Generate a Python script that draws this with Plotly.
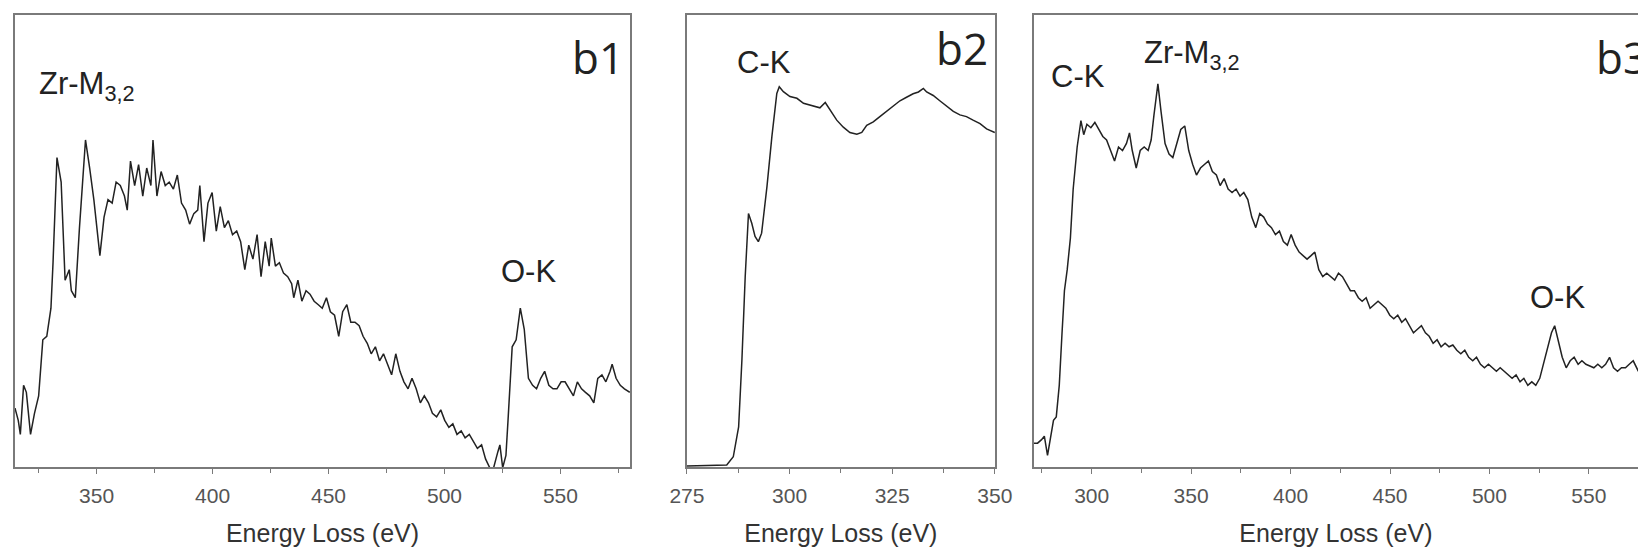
import plotly.graph_objects as go

# ---------------- data (intensity in arbitrary units) ----------------
b1_ev = [314.8, 316.2, 317.1, 318.5, 319.7, 321.5, 323.2, 325.0, 326.8, 328.5, 330.3, 331.2, 332.9, 334.7,
         336.4, 338.2, 339.1, 340.8, 342.6, 345.2, 347.0, 348.8, 351.4, 353.2, 354.9, 356.7, 358.4, 360.2,
         362.0, 363.2, 364.6, 366.4, 368.1, 369.9, 371.6, 373.4, 374.3, 376.0, 377.8, 379.6, 381.3, 383.1,
         384.8, 386.6, 388.4, 390.1, 391.9, 393.6, 394.5, 396.3, 398.0, 399.8, 401.6, 403.3, 405.1, 406.8,
         408.6, 410.4, 412.1, 413.9, 415.6, 417.4, 419.2, 420.9, 422.7, 424.4, 425.3, 427.1, 428.8, 430.6,
         432.4, 434.1, 435.0, 436.8, 438.5, 440.3, 442.0, 443.8, 445.6, 447.3, 449.1, 450.8, 452.6, 454.4,
         456.1, 457.9, 459.6, 461.4, 463.2, 464.9, 466.7, 468.4, 470.2, 472.0, 473.7, 475.5, 477.2, 479.0,
         480.8, 482.5, 484.3, 486.0, 487.8, 489.6, 491.3, 493.1, 494.8, 496.6, 498.4, 500.1, 501.9, 503.6,
         505.4, 507.2, 508.9, 510.7, 512.4, 514.2, 516.0, 517.7, 519.5, 521.2, 523.0, 523.9, 525.1, 526.5,
         527.4, 529.2, 530.9, 532.7, 534.4, 536.2, 538.0, 539.7, 541.5, 543.2, 545.0, 546.8, 548.5, 550.3,
         552.0, 553.8, 555.6, 557.3, 559.1, 560.8, 562.6, 564.4, 566.1, 567.9, 569.6, 571.4, 572.3, 574.0,
         575.8, 577.6, 579.9]
b1_int = [16.8, 13.3, 9.3, 23.3, 21.3, 9.3, 15.3, 20.3, 36.3, 37.3, 45.3, 58.3, 88.3, 81.3,
          53.3, 56.3, 50.3, 48.3, 68.3, 93.3, 85.3, 76.3, 60.3, 71.3, 76.3, 75.3, 81.3, 80.3,
          77.3, 73.3, 87.3, 80.3, 86.3, 77.3, 85.3, 80.3, 93.3, 77.3, 84.3, 80.3, 81.3, 79.3,
          83.3, 75.3, 73.3, 69.3, 72.3, 73.3, 80.3, 64.3, 75.3, 78.3, 67.3, 74.3, 68.3, 70.3,
          66.3, 67.3, 64.3, 56.3, 63.3, 59.3, 66.3, 54.3, 64.3, 57.3, 65.3, 57.3, 58.3, 55.3,
          54.3, 52.3, 48.3, 53.3, 47.3, 50.3, 49.3, 47.3, 46.3, 45.3, 48.3, 44.3, 43.3, 37.3,
          44.3, 46.3, 41.3, 41.3, 40.3, 37.3, 35.3, 32.3, 34.3, 30.3, 32.3, 29.3, 26.3, 32.3,
          27.3, 24.3, 22.3, 25.3, 22.3, 18.3, 20.3, 18.3, 15.3, 14.3, 16.3, 13.3, 11.3, 12.3,
          9.3, 10.3, 8.3, 9.3, 7.3, 5.3, 6.3, 2.3, -0.2, -0.2, 4.3, 6.3, -0.2, 3.3,
          13.3, 34.3, 36.3, 45.3, 39.3, 25.3, 23.3, 22.3, 25.3, 27.3, 23.3, 22.3, 22.3, 24.3,
          24.3, 22.3, 20.3, 24.3, 22.3, 21.3, 20.3, 18.3, 25.3, 26.3, 24.3, 27.3, 29.3, 25.3,
          23.3, 22.3, 21.3]

b2_ev = [275.0, 279.9, 284.7, 286.3, 287.6, 288.4, 289.2, 290.0, 290.8, 291.6, 292.4, 293.2, 294.5, 295.7,
         296.9, 297.5, 298.5, 300.1, 301.8, 303.4, 305.8, 307.4, 308.7, 309.9,
         311.5, 313.1, 314.7, 316.4, 317.6, 318.8, 320.4, 322.0, 323.7, 325.3, 326.9, 328.5, 330.1, 331.4,
         332.6, 333.4, 335.0, 336.6, 338.3, 339.9, 341.5, 343.1, 344.7, 346.4, 348.0, 350.0]
b2_int = [0.3, 0.5, 0.6, 2.9, 11.4, 30.4, 54.0, 72.0, 69.2, 65.5, 64.0, 66.4, 79.6, 93.8,
          106.1, 108.0, 106.6, 105.2, 104.7, 103.3, 102.5, 102.0, 103.5, 101.5,
          98.5, 96.5, 95.0, 94.5, 95.0, 97.0, 98.0, 99.5, 101.0, 102.5, 104.0, 105.0, 106.0, 106.5,
          107.5, 106.5, 105.5, 104.0, 102.5, 101.0, 100.0, 99.5, 98.5, 97.5, 96.0, 95.0]

b3_ev = [270.9, 272.8, 274.8, 276.2, 277.8, 279.4, 280.8, 282.2, 283.7, 285.1, 286.3, 287.7, 289.3, 290.7,
         292.7, 294.6, 296.0, 297.6, 299.6, 301.6, 303.6, 305.6, 307.5, 309.5, 311.5, 313.5, 315.5, 317.5,
         319.0, 320.4, 322.4, 324.4, 326.4, 328.4, 329.9, 331.3, 333.3, 334.9, 336.9, 338.9, 340.8, 342.8,
         344.8, 346.8, 348.8, 350.8, 352.7, 354.7, 356.7, 358.7, 360.7, 362.7, 364.6, 366.6, 368.6, 370.6,
         372.6, 374.6, 376.5, 378.5, 380.5, 382.5, 384.5, 386.5, 388.4, 390.4, 392.4, 394.4, 396.4, 398.4,
         400.3, 402.3, 404.3, 406.3, 408.3, 410.3, 412.2, 414.2, 416.2, 418.2, 420.2, 422.2, 424.1, 426.1,
         428.1, 430.1, 432.1, 434.1, 436.0, 438.0, 440.0, 442.0, 444.0, 446.0, 447.9, 449.9, 451.9, 453.9,
         455.9, 457.8, 459.8, 461.8, 463.8, 465.8, 467.8, 469.7, 471.7, 473.7, 475.7, 477.7, 479.7, 481.6,
         483.6, 485.6, 487.6, 489.6, 491.6, 493.5, 495.5, 497.5, 499.5, 501.5, 503.5, 505.4, 507.4, 509.4,
         511.4, 513.4, 515.4, 517.3, 519.3, 521.3, 523.3, 525.3, 527.2, 529.2, 531.2, 532.8, 534.6, 536.6,
         538.6, 540.6, 542.6, 544.6, 546.5, 548.5, 550.5, 552.5, 554.5, 556.5, 558.4, 560.4, 562.4, 564.4,
         566.4, 568.4, 570.3, 572.3, 574.9]
b3_int = [6.8, 6.8, 7.8, 8.8, 3.3, 9.3, 13.3, 14.3, 23.3, 38.3, 50.3, 56.3, 65.3, 79.3,
          91.3, 98.8, 94.8, 97.8, 96.8, 98.3, 96.3, 94.3, 93.3, 90.3, 87.3, 91.3, 90.3, 92.3,
          95.3, 90.3, 85.3, 90.3, 91.3, 90.3, 93.3, 100.3, 109.3, 101.3, 92.3, 89.3, 88.3, 92.3,
          96.3, 97.3, 90.3, 86.3, 83.3, 85.3, 86.3, 87.3, 84.3, 83.3, 80.3, 82.3, 79.3, 78.3,
          79.3, 77.3, 78.3, 76.3, 71.3, 68.3, 72.3, 71.3, 69.3, 68.3, 66.3, 67.3, 64.3, 63.3,
          66.3, 63.3, 61.3, 60.3, 59.3, 60.3, 61.3, 56.3, 54.3, 55.3, 54.3, 53.3, 55.3, 54.3,
          52.3, 50.3, 50.3, 48.3, 47.3, 48.3, 45.3, 46.3, 47.3, 46.3, 45.3, 43.3, 42.3, 43.3,
          41.3, 42.3, 40.3, 38.3, 39.3, 40.3, 38.3, 37.3, 35.3, 36.3, 34.3, 35.3, 34.3, 34.8,
          33.3, 32.3, 33.3, 31.3, 30.3, 31.3, 29.3, 28.3, 29.3, 28.3, 27.3, 28.3, 27.3, 26.3,
          25.3, 26.3, 24.3, 25.3, 23.3, 24.3, 23.3, 25.3, 29.3, 34.3, 38.3, 40.3, 36.3, 31.3,
          28.3, 30.3, 31.3, 29.3, 30.3, 29.3, 28.8, 28.3, 29.3, 28.3, 29.3, 31.3, 28.3, 27.3,
          28.3, 28.3, 29.3, 30.3, 27.3]

panel_labels = ["b1", "b2", "b3"]
x_title = "Energy Loss (eV)"

# ---------------- figure ----------------
W, H = 1638, 551
LINE = "#222222"
FRAME = "#7a7a7a"
SANS = "Liberation Sans, Arial, sans-serif"
TICKFONT = dict(family=SANS, size=21, color="#555555")
ANNFONT = dict(family=SANS, size=31, color="#222222")
BIGFONT = dict(family="Open Sans, Noto Sans, sans-serif", size=44, color="#222222")

fig = go.Figure()
for i, (xs, ys) in enumerate([(b1_ev, b1_int), (b2_ev, b2_int), (b3_ev, b3_int)]):
    sfx = "" if i == 0 else str(i + 1)
    fig.add_trace(go.Scatter(x=xs, y=ys, mode="lines", xaxis="x" + sfx, yaxis="y" + sfx,
                             line=dict(color=LINE, width=1.5), showlegend=False))


def px_x(p):
    return p / W


def px_y(p):
    return 1 - p / H


ydom = [px_y(467), px_y(14.5)]


def xaxis(dom, rng, dtick, mdtick, anchor):
    return dict(domain=dom, range=rng, anchor=anchor, dtick=dtick, tick0=0, automargin=False,
                showline=True, linecolor=FRAME, linewidth=1.5, mirror=True,
                ticks="outside", ticklen=5, tickwidth=1.2, tickcolor=FRAME, ticklabelstandoff=4,
                minor=dict(dtick=mdtick, tick0=0, ticks="outside", ticklen=4, tickwidth=1.2, tickcolor=FRAME),
                showgrid=False, zeroline=False, tickfont=TICKFONT,
                title=dict(text=x_title, font=dict(family=SANS, size=25, color="#333333"), standoff=19))


def yaxis(rng, anchor, mirror=True):
    return dict(domain=ydom, range=rng, anchor=anchor, showline=True, linecolor=FRAME, linewidth=1.5,
                mirror=mirror, ticks="", showticklabels=False, showgrid=False, zeroline=False,
                automargin=False)


fig.update_layout(
    width=W, height=H, margin=dict(l=0, r=0, t=0, b=0, autoexpand=False),
    paper_bgcolor="white", plot_bgcolor="white", showlegend=False,
    xaxis=xaxis([px_x(15), px_x(630)], [314.8, 580.0], 50, 25, "y"),
    xaxis2=xaxis([px_x(686.7), px_x(995)], [274.95, 350.05], 25, 12.5, "y2"),
    xaxis3=xaxis([px_x(1033.8), 1.0], [270.9, 574.7], 50, 25, "y3"),
    yaxis=yaxis([0, 129.1], "x"),
    yaxis2=yaxis([0, 128.5], "x2"),
    yaxis3=yaxis([0, 129.1], "x3", mirror=False),
)

ann = [
    dict(text="Zr-M<sub>3,2</sub>", x=px_x(37), y=px_y(86), xanchor="left", yanchor="middle", font=ANNFONT),
    dict(text="O-K", x=px_x(528), y=px_y(271.5), xanchor="center", yanchor="middle", font=ANNFONT),
    dict(text="C-K", x=px_x(764), y=px_y(62), xanchor="center", yanchor="middle", font=ANNFONT),
    dict(text="C-K", x=px_x(1077.7), y=px_y(76.4), xanchor="center", yanchor="middle", font=ANNFONT),
    dict(text="Zr-M<sub>3,2</sub>", x=px_x(1142), y=px_y(55), xanchor="left", yanchor="middle", font=ANNFONT),
    dict(text="O-K", x=px_x(1557.5), y=px_y(297), xanchor="center", yanchor="middle", font=ANNFONT),
    dict(text=panel_labels[0], x=px_x(597.7), y=px_y(57), xanchor="center", yanchor="middle", font=BIGFONT),
    dict(text=panel_labels[1], x=px_x(961.5), y=px_y(48.3), xanchor="center", yanchor="middle", font=BIGFONT),
    dict(text=panel_labels[2], x=px_x(1593.5), y=px_y(57), xanchor="left", yanchor="middle", font=BIGFONT),
]
for a in ann:
    a.update(xref="paper", yref="paper", showarrow=False)
fig.update_layout(annotations=ann)

fig.write_html("out.html")
